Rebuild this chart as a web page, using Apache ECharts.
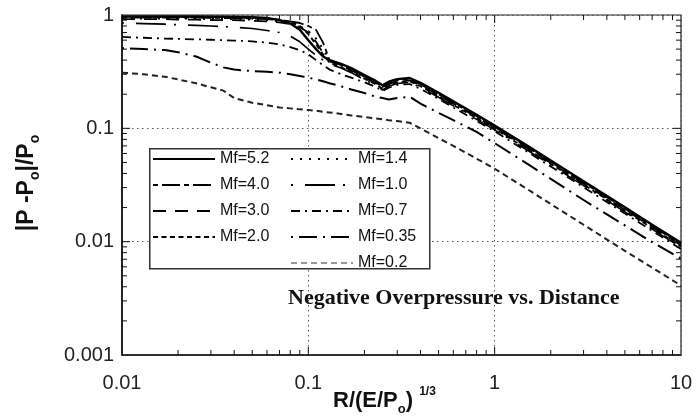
<!DOCTYPE html>
<html><head><meta charset="utf-8">
<script src="https://cdn.jsdelivr.net/npm/echarts@6/dist/echarts.min.js"></script>
<style>html,body{margin:0;padding:0;background:#fff}#c{width:697px;height:416px}</style>
</head><body><div id="c"></div>
<script>
// Scaled distance R/(E/Po)^(1/3)
const xValues = [0.01,0.013,0.017,0.02,0.025,0.03,0.035,0.04,0.05,0.06,0.07,0.08,0.09,0.1,0.11,0.12,
  0.13,0.15,0.17,0.2,0.23,0.25,0.27,0.3,0.35,0.4,0.5,0.6,0.8,1,1.5,2,3,5,7,10];
// |P-Po|/Po for each Mf
const mf52 = [0.97,0.97,0.97,0.97,0.97,0.965,0.965,0.96,0.955,0.94,0.9,0.84,0.74,0.6,0.5,0.43,
  0.40,0.37,0.34,0.295,0.262,0.24,0.258,0.272,0.278,0.252,0.206,0.173,0.132,0.106,0.070,0.052,0.0342,0.0201,0.0141,0.0098];
const mf40 = [0.95,0.95,0.95,0.95,0.95,0.945,0.94,0.94,0.93,0.92,0.9,0.88,0.85,0.8,0.74,0.57,
  0.40,0.36,0.33,0.285,0.255,0.232,0.25,0.265,0.27,0.245,0.2,0.168,0.128,0.103,0.068,0.0505,0.0332,0.0195,0.0137,0.0095];
const mf30 = [0.92,0.92,0.92,0.91,0.91,0.9,0.9,0.9,0.89,0.88,0.86,0.83,0.78,0.7,0.58,0.46,
  0.39,0.355,0.325,0.28,0.25,0.228,0.245,0.26,0.265,0.24,0.196,0.165,0.1255,0.101,0.0666,0.0495,0.0325,0.0191,0.0134,0.0093];
const mf20 = [0.96,0.96,0.96,0.96,0.955,0.955,0.95,0.95,0.94,0.93,0.91,0.87,0.8,0.68,0.55,0.45,
  0.38,0.345,0.317,0.274,0.245,0.223,0.24,0.254,0.26,0.235,0.192,0.161,0.123,0.099,0.0653,0.0485,0.0319,0.0187,0.0132,0.0091];
const mf14 = [0.93,0.93,0.93,0.93,0.93,0.92,0.92,0.92,0.91,0.9,0.88,0.85,0.8,0.72,0.62,0.5,
  0.4,0.364,0.333,0.288,0.258,0.234,0.253,0.268,0.273,0.249,0.203,0.17,0.13,0.1045,0.069,0.0513,0.0337,0.0198,0.0139,0.0096];
const mf10 = [0.85,0.84,0.83,0.82,0.81,0.8,0.79,0.78,0.76,0.73,0.7,0.65,0.58,0.5,0.44,0.4,
  0.37,0.34,0.31,0.268,0.24,0.218,0.235,0.249,0.254,0.23,0.188,0.158,0.12,0.097,0.064,0.0475,0.0312,0.0183,0.0129,0.0089];
const mf07 = [0.64,0.63,0.62,0.615,0.61,0.605,0.6,0.595,0.585,0.57,0.55,0.52,0.49,0.45,0.4,0.36,
  0.33,0.3,0.28,0.255,0.232,0.213,0.228,0.242,0.246,0.223,0.182,0.153,0.1165,0.094,0.062,0.046,0.0302,0.0177,0.0125,0.0086];
const mf035 = [0.51,0.5,0.49,0.47,0.43,0.38,0.345,0.33,0.32,0.315,0.31,0.3,0.29,0.28,0.27,0.26,
  0.25,0.235,0.22,0.205,0.19,0.185,0.18,0.185,0.19,0.165,0.137,0.118,0.093,0.074,0.0485,0.0358,0.0233,0.0139,0.0099,0.0071];
const mf02 = [0.31,0.30,0.285,0.27,0.25,0.23,0.215,0.185,0.168,0.16,0.153,0.15,0.147,0.145,0.143,0.14,
  0.138,0.134,0.13,0.126,0.122,0.12,0.118,0.116,0.112,0.1,0.082,0.07,0.054,0.044,0.029,0.0215,0.0141,0.0083,0.0059,0.0041];

const xTickLabels = ['0.01','0.1','1','10'];
const yTickLabels = ['0.001','0.01','0.1','1'];

const seriesDefs = [
  {name:'Mf=5.2', data: mf52, type:'solid', width:2.4, color:'#000'},
  {name:'Mf=4.0', data: mf40, type:[5,4,18,4], width:1.8, color:'#000'},
  {name:'Mf=3.0', data: mf30, type:[13,9], width:1.8, color:'#000'},
  {name:'Mf=2.0', data: mf20, type:[5,3.5], width:1.8, color:'#000'},
  {name:'Mf=1.4', data: mf14, type:[2,7], width:2, color:'#000'},
  {name:'Mf=1.0', data: mf10, type:[2,12,30,8], width:1.6, color:'#000'},
  {name:'Mf=0.7', data: mf07, type:[9,5,2,5], width:1.8, color:'#000'},
  {name:'Mf=0.35', data: mf035, type:[2,6,18,6], width:2, color:'#000'},
  {name:'Mf=0.2', data: mf02, type:[6,4], width:2, color:'#222'}
];

const font = '"Liberation Sans", Arial, sans-serif';
const lineSeries = seriesDefs.map(d => ({
  name: d.name, type: 'line', symbol: 'none', smooth: false,
  data: xValues.map((x, i) => [x, d.data[i]]),
  lineStyle: {color: d.color, width: d.width, type: d.type, join: 'round'},
  itemStyle: {color: d.color}, z: 3
}));

// minor tick positions (axis decoration)
const xTicks = [], yTicks = [];
[0.01,0.1,1].forEach(dec => { for (let m = 1; m <= 9; m++) if (m > 1 || dec > 0.01) xTicks.push([dec*m, 1, m === 1 ? 1 : 0]); });
[0.001,0.01,0.1].forEach(dec => { for (let m = 1; m <= 9; m++) if (m > 1 || dec > 0.001) yTicks.push([0.01, dec*m, m === 1 ? 1 : 0]); });

function tickRender(isX) {
  return function (params, api) {
    const cs = params.coordSys;
    const p = api.coord([api.value(0), api.value(1)]);
    const L = api.value(2) ? 8 : 5;
    const st = {stroke: '#111', lineWidth: 1};
    if (isX) {
      return {type:'group', children:[
        {type:'line', shape:{x1:p[0], y1:cs.y+cs.height, x2:p[0], y2:cs.y+cs.height-L}, style:st},
        {type:'line', shape:{x1:p[0], y1:cs.y, x2:p[0], y2:cs.y+L}, style:st}
      ]};
    }
    return {type:'group', children:[
      {type:'line', shape:{x1:cs.x, y1:p[1], x2:cs.x+L, y2:p[1]}, style:st},
      {type:'line', shape:{x1:cs.x+cs.width, y1:p[1], x2:cs.x+cs.width-L, y2:p[1]}, style:st}
    ]};
  };
}

const chart = echarts.init(document.getElementById('c'), null, {renderer:'canvas'});
const legendText = {fontSize: 16, color: '#111', fontFamily: font};
const legendCommon = {orient: 'vertical', top: 151, padding: 0, itemWidth: 62, itemHeight: 14, itemGap: 10,
  textStyle: legendText, selectedMode: false, z: 10,
  itemStyle: {opacity: 0, borderWidth: 0}};
chart.setOption({
  animation: false,
  backgroundColor: '#fff',
  grid: {left: 122, top: 15, width: 559, height: 340, show: true, borderColor: '#222', borderWidth: 1.2, backgroundColor: 'transparent'},
  xAxis: {
    type: 'log', logBase: 10, min: 0.01, max: 10,
    axisLine: {lineStyle: {color: '#111', width: 1.6}},
    axisTick: {show: false},
    axisLabel: {fontSize: 20, color: '#222', fontFamily: font, margin: 18,
      formatter: v => xTickLabels[Math.round(Math.log10(v)) + 2]},
    splitLine: {show: true, lineStyle: {color: '#555', type: [1.5, 3.5], width: 1}}
  },
  yAxis: {
    type: 'log', logBase: 10, min: 0.001, max: 1,
    axisLine: {lineStyle: {color: '#111', width: 1.6}},
    axisTick: {show: false},
    axisLabel: {fontSize: 20, color: '#222', fontFamily: font, margin: 8,
      formatter: v => yTickLabels[Math.round(Math.log10(v)) + 3]},
    splitLine: {show: true, lineStyle: {color: '#555', type: [1.5, 3.5], width: 1}}
  },
  legend: [
    Object.assign({left: 152, data: ['Mf=5.2','Mf=4.0','Mf=3.0','Mf=2.0']}, legendCommon),
    Object.assign({left: 290, data: ['Mf=1.4','Mf=1.0','Mf=0.7','Mf=0.35', {name:'Mf=0.2', lineStyle:{color:'#999'}}]}, legendCommon)
  ],
  graphic: [
    {type: 'rect', left: 149, top: 148, z: 5, shape: {width: 280, height: 120},
     style: {fill: '#fff', stroke: '#333', lineWidth: 1.5}},
    {type: 'text', x: 288, y: 298, z: 6,
     style: {text: 'Negative Overpressure vs. Distance', font: 'bold 22px "Liberation Serif", "Times New Roman", serif',
       fill: '#111', verticalAlign: 'middle', align: 'left'}},
    {type: 'text', x: 333, y: 401, z: 6,
     style: {text: '{b|R/(E/P}{s|o}{b|) }{p|1/3}', align: 'left', verticalAlign: 'middle',
       rich: {
         b: {fontSize: 22, fontWeight: 'bold', fontFamily: font, fill: '#111', lineHeight: 30, verticalAlign: 'middle'},
         s: {fontSize: 13, fontWeight: 'bold', fontFamily: font, fill: '#111', lineHeight: 30, verticalAlign: 'bottom'},
         p: {fontSize: 12, fontWeight: 'bold', fontFamily: font, fill: '#111', lineHeight: 30, verticalAlign: 'top'}
       }}},
    {type: 'text', x: 27, y: 183, rotation: Math.PI / 2, z: 6,
     style: {text: '{b||P -P}{s|o}{b||/P}{s|o}', align: 'center', verticalAlign: 'middle',
       rich: {
         b: {fontSize: 23, fontWeight: 'bold', fontFamily: font, fill: '#111', lineHeight: 30, verticalAlign: 'middle'},
         s: {fontSize: 14, fontWeight: 'bold', fontFamily: font, fill: '#111', lineHeight: 30, verticalAlign: 'bottom'}
       }}}
  ],
  series: lineSeries.concat([
    {type: 'custom', silent: true, clip: false, z: 4, renderItem: tickRender(true), data: xTicks},
    {type: 'custom', silent: true, clip: false, z: 4, renderItem: tickRender(false), data: yTicks}
  ])
});
</script></body></html>
